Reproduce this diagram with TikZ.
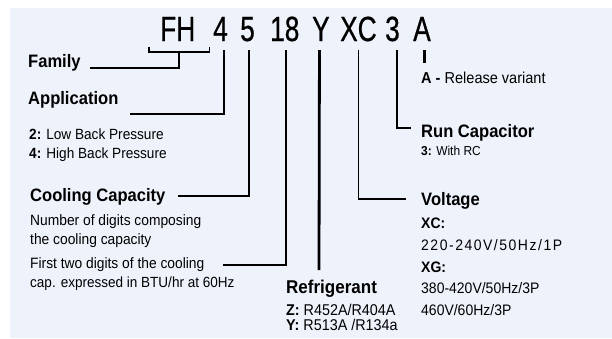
\documentclass[tikz,border=0pt]{standalone}
\usepackage{fontspec}
\setmainfont{Liberation Sans}[FakeStretch=0.92]
\newfontfamily\codefont{Liberation Sans}[FakeStretch=0.75, FakeBold=0.6]
\newfontfamily\spacedfont{Liberation Sans}[FakeStretch=0.92, LetterSpace=10]
\usetikzlibrary{calc}
\definecolor{panelblue}{RGB}{238,242,250}
\tikzset{
  code/.style={anchor=base west, inner sep=0pt, text depth=9pt,
    font=\codefont\fontsize{35}{35}\selectfont},
  head/.style={anchor=base west, inner sep=0pt, font=\bfseries\fontsize{18}{20}\selectfont},
  body/.style={anchor=base west, inner sep=0pt, font=\fontsize{15}{17}\selectfont},
  small/.style={body, font=\fontsize{13}{15}\selectfont},
  lead/.style={line width=1.5pt},
  thicklead/.style={line width=2.8pt},
}

\begin{document}
\begin{tikzpicture}[x=1pt, y=-1pt]
  \useasboundingbox (0,0) rectangle (612,338);
  \fill[panelblue] (10,8) rectangle (612,338);

  % model code
  \node[code] (fh) at (160,41) {FH};
  \node[code] (c4) at (213,41) {4};
  \node[code] (c5) at (240,41) {5};
  \node[code] (c18) at (270,41) {18};
  \node[code] (cY) at (312,41) {Y};
  \node[code] (cXC) at (340,41) {XC};
  \node[code] (c3) at (385,41) {3};
  \node[code] (cA) at (413,41) {A};

  % left column
  \node[head] (fam) at (28,67) {Family};
  \node[head] (appl) at (28,104) {Application};
  \node[body, font=\fontsize{14.8}{17}\selectfont] (lbp) at (29,139) {\textbf{2:} Low Back Pressure};
  \node[body, font=\fontsize{14.8}{17}\selectfont] (hbp) at (29,158) {\textbf{4:} High Back Pressure};
  \node[head] (cool) at (30,201) {Cooling Capacity};
  \node[body] (ndig) at (30,225) {Number of digits composing};
  \node[body] (ncap) at (30,244) {the cooling capacity};
  \node[body] (fdig) at (30,268) {First two digits of the cooling};
  \node[body, font=\fontsize{14.7}{17}\selectfont] (fcap) at (30,287) {cap. expressed in BTU/hr at 60Hz};

  % right column
  \node[head, font=\bfseries\fontsize{18.5}{20}\selectfont] (refr) at (286,293) {Refrigerant};
  \node[body, font=\fontsize{15.6}{17}\selectfont] (rz) at (286,315) {\textbf{Z:} R452A/R404A};
  \node[body, font=\fontsize{15.6}{17}\selectfont] (ry) at (286,330) {\textbf{Y:} R513A /R134a};
  \node[head] (volt) at (421,205) {Voltage};
  \node[body, font=\bfseries\fontsize{15.2}{17}\selectfont] (vxc) at (421,228) {XC:};
  \node[body, font=\spacedfont\fontsize{15.2}{17}\selectfont] (vone) at (421,250) {220-240V/50Hz/1P};
  \node[body, font=\bfseries\fontsize{15.2}{17}\selectfont] (vxg) at (421,272) {XG:};
  \node[body, font=\fontsize{15.2}{17}\selectfont] (vthree) at (421,293) {380-420V/50Hz/3P};
  \node[body, font=\fontsize{15.2}{17}\selectfont] (vsix) at (421,315) {460V/60Hz/3P};
  \node[head] (runc) at (421,137) {Run Capacitor};
  \node[small] (rc) at (421,155) {\textbf{3:} With RC};
  \node[body, font=\fontsize{15.8}{17}\selectfont] (rel) at (421,83) {\textbf{A -} Release variant};

  % leader ends
  \coordinate (famend) at (90,68);
  \coordinate (applend) at (130,114);
  \coordinate (coolend) at (178,196);
  \coordinate (fdigend) at (223,265);
  \coordinate (refrend) at (319,270);
  \coordinate (voltend) at (406,199);
  \coordinate (runcend) at (411,128);

  % leaders
  \draw[lead] ($(fh.south west)+(-11,-3)$) |- ($(fh.south east)+(14,2)$) -- ++(0,-5);
  \draw[lead] ($(fh.south)+(1.5,2)$) |- (famend);
  \draw[lead] ([xshift=3.7pt]c4.south) |- (applend);
  \draw[lead] ([xshift=1.7pt]c5.south) |- (coolend);
  \draw[lead] ([xshift=1.4pt]c18.south) |- (fdigend);
  \draw[thicklead] ([xshift=-1.5pt]cY.south) -- (refrend);
  \draw[lead] (cXC.south) |- (voltend);
  \draw[lead] ([xshift=4.5pt]c3.south) |- (runcend);
  \draw[thicklead] ([xshift=2.3pt]cA.south) -- ++(0,13);
\end{tikzpicture}
\end{document}
